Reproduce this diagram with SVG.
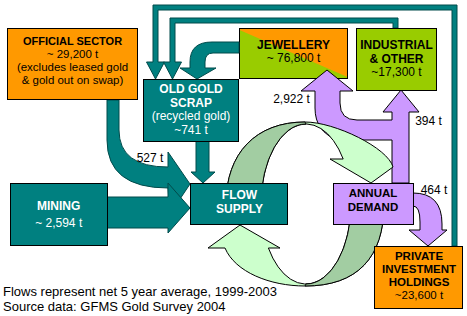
<svg xmlns="http://www.w3.org/2000/svg" width="467" height="316" viewBox="0 0 467 316">
<style>
.bx{stroke:#000;stroke-width:1}
.teal{fill:#008080}
.org{fill:#FF9900}
.lime{fill:#99CC00}
.lavb{fill:#CC99FF}
.ta{fill:#008080;stroke:#004a4a;stroke-width:1;stroke-linejoin:miter}
.la{fill:#CC99FF;stroke:#000;stroke-width:1}
.gl{fill:#CCFFCC;stroke:#000;stroke-width:1}
.gd{fill:#A2CDA2;stroke:#000;stroke-width:1}
text{font-family:"Liberation Sans",Arial,sans-serif;font-size:12px;text-anchor:middle;fill:#000}
.b{font-weight:bold}
.w{fill:#fff}
.s{font-size:11.5px}
.ft{font-size:13px;text-anchor:start}
</style>
<rect width="467" height="316" fill="#fff"/>

<g id="jewellery">
<rect x="239.5" y="28.5" width="108" height="50" class="lime"/>
<polygon points="239.5,28.5 347.5,28.5 347.5,77 239.5,30" class="org"/>
<rect x="239.5" y="28.5" width="108" height="50" fill="none" class="bx"/>
<text x="293.5" y="48.5" class="b">JEWELLERY</text>
<text x="293.5" y="62">~ 76,800 t</text>
</g>

<g id="connectors">
<path class="ta" d="M153,62 L153,5 L457,5 L457,246 L452,246 L452,10 L158,10 L158,62 L164.5,62 L155.5,79 L146.5,62 Z"/>
<path class="ta" d="M170,62 L170,18 L398,18 L398,28 L393,28 L393,23 L175,23 L175,62 L181.5,62 L172.5,79 L163.5,62 Z"/>
<path class="ta" d="M239,42 L212,42 Q190,42 190,62 L190,68 L180,68 L197,79 L216,68 L205,68 L205,62 Q205,53 213,53 L239,53 Z"/>
<path class="ta" d="M107,100 L107,140 Q107,188 168,188 L170,214 L190,184 L168,152 L168,167 Q119,167 119,130 L119,100 Z"/>
<path class="ta" d="M107,197 L168,197 L168,183 L190,208 L168,233 L168,228 L107,228 Z"/>
<path class="ta" d="M196,141 L209,141 L209,172 L215,172 L203,183 L191,172 L196,172 Z"/>
<path class="la" d="M392,183 L392,140 L338,140 Q315,132 315,108 L315,91 L301,91 L327,70 L353,91 L340,91 L340,103 Q340,120 357,120 L392,120 L392,112 L383,112 L401,90 L419,112 L409,112 L409,183 Z"/>
<path class="gl" d="M226,204 C226,153 256,122 305,122 C335,122 388,148 393,167 L371,183 L330,159 L343.2,159 A45 80 0 0 0 261,204 Z"/>
<path class="gd" d="M226,204 C226,153 256,122 305,122 L306,124 A45 80 0 0 0 261,204 Z"/>
<path class="gl" d="M384,204 C384,258 357,286 305,286 C270,286 235,272 225,248 L208,248 L240,225 L280,248 L268.4,248 A45 80 0 0 0 351,204 Z"/>
<path class="gd" d="M384,204 C384,258 357,286 305,286 L306,284 A45 80 0 0 0 351,204 Z"/>
<path class="la" d="M413,193 Q442,193 442,224 L442,230 L447,230 L428,246 L409,230 L420,230 L420,222 Q420,206 413,206 Z"/>
<text x="150" y="161.7">527 t</text>
<text x="291.5" y="103.3">2,922 t</text>
<text x="428.5" y="125">394 t</text>
<text x="434" y="194">464 t</text>
</g>

<g id="official">
<rect x="7.5" y="28.5" width="130" height="71" class="org bx"/>
<text x="72.5" y="44.7" class="b" style="font-size:11px">OFFICIAL SECTOR</text>
<text x="72.5" y="57.6" class="s">~ 29,200 t</text>
<text x="72.5" y="70.8" class="s">(excludes leased gold</text>
<text x="72.5" y="84" class="s">&amp; gold out on swap)</text>
</g>

<g id="oldgold">
<rect x="143.5" y="79.5" width="95" height="62" class="teal bx"/>
<text x="191" y="93" class="b w">OLD GOLD</text>
<text x="191" y="106.6" class="b w">SCRAP</text>
<text x="191" y="120.3" class="w">(recycled gold)</text>
<text x="191" y="134" class="w">~741 t</text>
</g>

<g id="industrial">
<rect x="356.5" y="28.5" width="80" height="62" class="lime bx"/>
<text x="396.5" y="49" class="b">INDUSTRIAL</text>
<text x="396.5" y="62.5" class="b">&amp; OTHER</text>
<text x="396.5" y="76">~17,300 t</text>
</g>

<g id="mining">
<rect x="10.5" y="183.5" width="97" height="62" class="teal bx"/>
<text x="58.7" y="210" class="b w">MINING</text>
<text x="58.7" y="226.7" class="w">~ 2,594 t</text>
</g>

<g id="flowsupply">
<rect x="190.5" y="183.5" width="97" height="41" class="teal bx"/>
<text x="239.5" y="199" class="b w">FLOW</text>
<text x="239.5" y="212.7" class="b w">SUPPLY</text>
</g>

<g id="annualdemand">
<rect x="333.5" y="183.5" width="80" height="41" class="lavb bx"/>
<text x="373" y="197.3" class="b s">ANNUAL</text>
<text x="373" y="210.6" class="b s">DEMAND</text>
</g>

<g id="private">
<rect x="374.5" y="246.5" width="88" height="62" class="org bx"/>
<text x="419" y="259.6" class="b s">PRIVATE</text>
<text x="419" y="272.8" class="b s">INVESTMENT</text>
<text x="419" y="286" class="b s">HOLDINGS</text>
<text x="419" y="299.2" class="s">~23,600 t</text>
</g>

<g id="footer">
<text x="3" y="295.5" class="ft">Flows represent net 5 year average, 1999-2003</text>
<text x="3" y="310.5" class="ft">Source data: GFMS Gold Survey 2004</text>
</g>
</svg>
